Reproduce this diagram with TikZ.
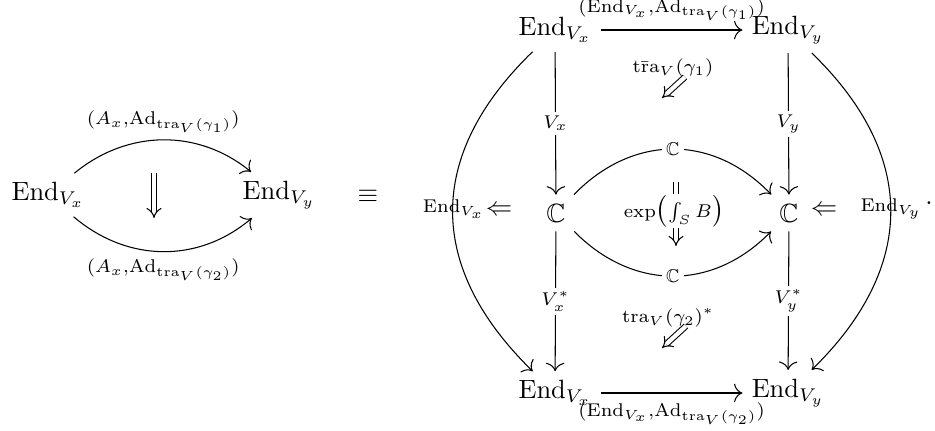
\documentclass[tikz,border=0pt]{standalone}
\usepackage{amsmath,amssymb}
\usetikzlibrary{arrows.meta}
\begin{document}
\begin{tikzpicture}[x=0.3788pt,y=-0.3788pt,
  obj/.style={inner sep=3.33pt},
  cdarrow/.style={line width=0.4pt,-{Computer Modern Rightarrow[length=3.2pt,width=7pt]}},
  twocell/.style={line width=0.4pt,double,double distance=1.6pt,-{Implies}},
  lab/.style={inner sep=1.5pt},
  flab/.style={inner sep=1.5pt,fill=white}]
\useasboundingbox (0,0) rectangle (935,431);
% ---------- left diagram ----------
\node[obj] (LX) at (48,195) {$\mathrm{End}_{V_x}$};
\node[obj] (LY) at (279,195) {$\mathrm{End}_{V_y}$};
\draw[cdarrow] (LX) .. controls (128,129) and (199,129) .. (LY)
  node[lab,midway,above=1pt] (lt) {$\scriptstyle(A_x,\mathrm{Ad}_{\mathrm{tra}_V(\gamma_1)})$};
\draw[cdarrow] (LX) .. controls (128,263) and (199,263) .. (LY)
  node[lab,midway,below=1pt] (lb) {$\scriptstyle(A_x,\mathrm{Ad}_{\mathrm{tra}_V(\gamma_2)})$};
\coordinate (lu) at (154,173);
\coordinate (ld) at (154,218);
\draw[twocell] (lu) -- (ld);
\node (eq) at (368,196) {$\equiv$};
% ---------- right diagram ----------
\node[obj] (TL) at (555,30) {$\mathrm{End}_{V_x}$};
\node[obj] (TR) at (788,30) {$\mathrm{End}_{V_y}$};
\node[obj] (CL) at (556,213) {$\mathbb{C}$};
\node[obj] (CR) at (789,213) {$\mathbb{C}$};
\node[obj] (BL) at (555,393) {$\mathrm{End}_{V_x}$};
\node[obj] (BR) at (788,393) {$\mathrm{End}_{V_y}$};
% horizontal
\draw[cdarrow] (TL) -- (TR)
  node[lab,midway,above=2pt] (tl) {$\scriptstyle(\mathrm{End}_{V_x},\mathrm{Ad}_{\mathrm{tra}_V(\gamma_1)})$};
\draw[cdarrow] (BL) -- (BR)
  node[lab,midway,below=2pt] (bl) {$\scriptstyle(\mathrm{End}_{V_x},\mathrm{Ad}_{\mathrm{tra}_V(\gamma_2)})$};
% vertical
\draw[cdarrow] (TL) -- (CL) node[flab,midway] (vx) {$\scriptstyle V_x$};
\draw[cdarrow] (CL) -- (BL) node[flab,midway] (vxs) {$\scriptstyle V_x^*$};
\draw[cdarrow] (TR) -- (CR) node[flab,midway] (vy) {$\scriptstyle V_y$};
\draw[cdarrow] (CR) -- (BR) node[flab,midway] (vys) {$\scriptstyle V_y^*$};
% middle curves
\draw[cdarrow] (CL) .. controls (633,134) and (713,134) .. (CR)
  node[flab,midway] (c1) {$\scriptstyle\mathbb{C}$};
\draw[cdarrow] (CL) .. controls (633,291) and (713,291) .. (CR)
  node[flab,midway] (c2) {$\scriptstyle\mathbb{C}$};
% outer curves
\draw[cdarrow] (TL) .. controls (426,155) and (426,267) .. (BL);
\draw[cdarrow] (TR) .. controls (917,155) and (917,267) .. (BR);
% two-cells
\coordinate (mu) at (676,182);
\coordinate (md) at (676,246);
\draw[twocell] (mu) -- (md);
\node[fill=white,inner sep=0.3pt] (ex) at (674,211) {$\scriptstyle\exp\bigl(\int_S B\bigr)$};
\node[lab] (l1) at (673,68) {$\scriptstyle\mathrm{t\bar{r}a}_V(\gamma_1)$};
\coordinate (a1) at (685,77);
\coordinate (a2) at (662,98);
\draw[twocell] (a1) -- (a2);
\node[lab] (l2) at (668,318) {$\scriptstyle\mathrm{tra}_V(\gamma_2)^*$};
\coordinate (b1) at (686,326);
\coordinate (b2) at (662,348);
\draw[twocell] (b1) -- (b2);
% side labels
\node[inner sep=0pt,anchor=east] (ML) at (485,209) {$\scriptstyle\mathrm{End}_{V_x}$};
\node[inner sep=0pt] (MLA) at (499,211) {$\Leftarrow$};
\node[inner sep=0pt] (MRA) at (824,211) {$\Leftarrow$};
\node[inner sep=0pt,anchor=west] (MR) at (860,209) {$\scriptstyle\mathrm{End}_{V_y}$};
\node[inner sep=0pt] (dot) at (929,203) {.};
\end{tikzpicture}
\end{document}
